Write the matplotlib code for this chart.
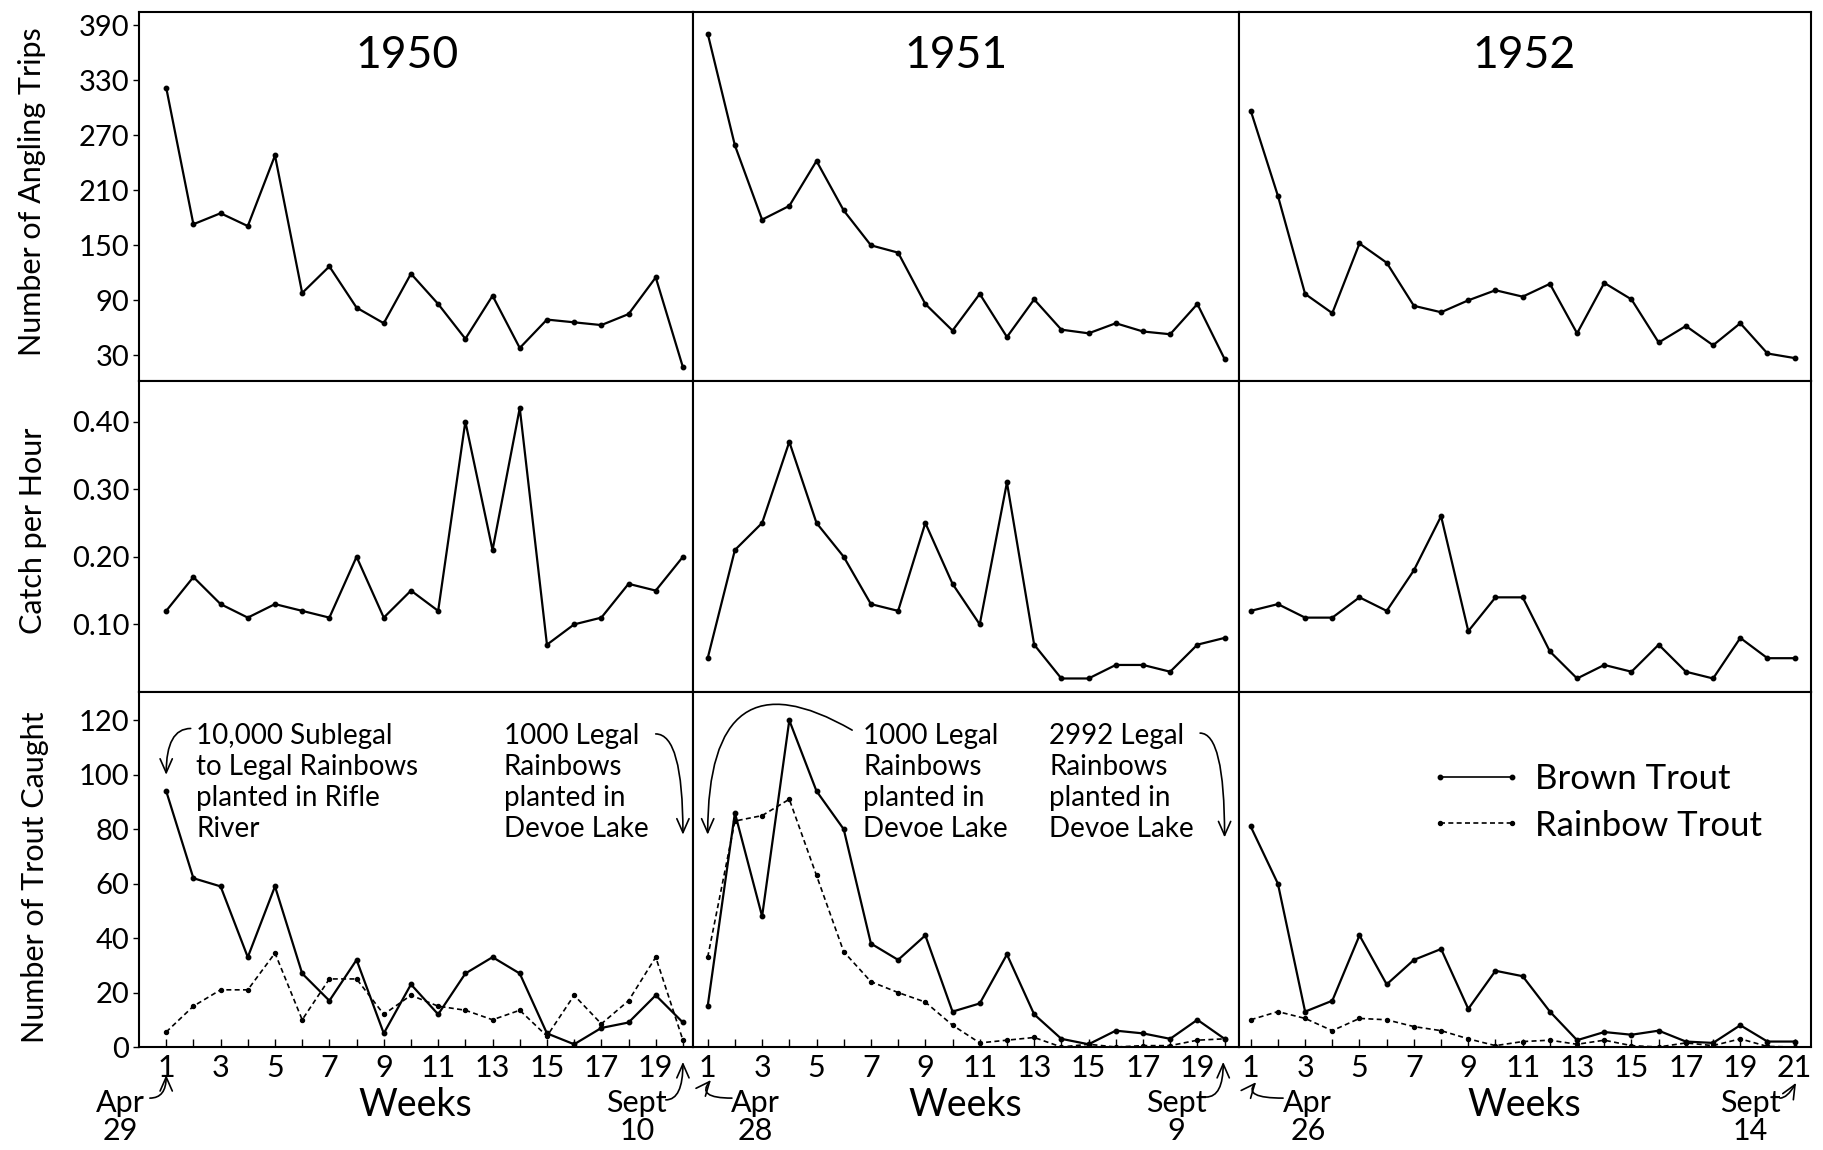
import matplotlib
matplotlib.use("Agg")
import matplotlib.pyplot as plt
from matplotlib.lines import Line2D

plt.rcParams.update({
    "font.family": ["Lato", "DejaVu Sans"],
    "font.weight": "normal",
    "axes.linewidth": 1.5,
})

# ---- data ----
weeks_1950 = list(range(1, 21))
weeks_1951 = list(range(1, 21))
weeks_1952 = list(range(1, 22))

trips_1950 = [322, 173, 185, 171, 248, 98, 127, 82, 65, 119, 86, 48, 95, 38, 69, 66, 63, 75, 115, 17]
trips_1951 = [381, 259, 178, 193, 242, 188, 150, 142, 86, 57, 97, 50, 91, 58, 54, 65, 56, 53, 86, 26]
trips_1952 = [297, 204, 97, 76, 152, 131, 84, 77, 90, 101, 94, 108, 54, 109, 91, 44, 62, 41, 65, 32, 27]

cph_1950 = [0.12, 0.17, 0.13, 0.11, 0.13, 0.12, 0.11, 0.20, 0.11, 0.15, 0.12, 0.40, 0.21, 0.42,
            0.07, 0.10, 0.11, 0.16, 0.15, 0.20]
cph_1951 = [0.05, 0.21, 0.25, 0.37, 0.25, 0.20, 0.13, 0.12, 0.25, 0.16, 0.10, 0.31, 0.07, 0.02,
            0.02, 0.04, 0.04, 0.03, 0.07, 0.08]
cph_1952 = [0.12, 0.13, 0.11, 0.11, 0.14, 0.12, 0.18, 0.26, 0.09, 0.14, 0.14, 0.06, 0.02, 0.04,
            0.03, 0.07, 0.03, 0.02, 0.08, 0.05, 0.05]

brown_1950 = [94, 62, 59, 33, 59, 27, 17, 32, 5, 23, 12, 27, 33, 27, 5, 1, 7, 9, 19, 9]
rainbow_1950 = [5.5, 15, 21, 21, 34.5, 10, 25, 25, 12, 19, 15, 13.5, 10, 13.5, 4, 19, 8.5, 17, 33, 2.5]
brown_1951 = [15, 86, 48, 120, 94, 80, 38, 32, 41, 13, 16, 34, 12, 3, 1, 6, 5, 3, 10, 3]
rainbow_1951 = [33, 83, 85, 91, 63, 35, 24, 20, 16.5, 8, 1.5, 2.5, 3.5, 0, 1, 0, 0.5, 0.5, 2.5, 3]
brown_1952 = [81, 60, 13, 17, 41, 23, 32, 36, 14, 28, 26, 13, 2.5, 5.5, 4.5, 6, 2, 1.5, 8, 2, 2]
rainbow_1952 = [10, 13, 10.5, 6, 10.5, 10, 7.5, 6, 3, 0.5, 2, 2.5, 1, 2.5, 0.5, 0, 1.5, 0.5, 3, 0.2, 0]

years = ["1950", "1951", "1952"]
start_dates = ["Apr\n29", "Apr\n28", "Apr\n26"]
end_dates = ["Sept\n10", "Sept\n9", "Sept\n14"]

trip_ticks = [30, 90, 150, 210, 270, 330, 390]
cph_ticks = [0.10, 0.20, 0.30, 0.40]
cph_labels = ["0.10", "0.20", "0.30", "0.40"]
catch_ticks = [0, 20, 40, 60, 80, 100, 120]

# ---- layout (pixels of the 1823x1150 canvas) ----
W, H = 1823, 1150
col_edges = [139, 693, 1239, 1811]
row_edges = [12, 381, 692, 1047]
xlims = [(0.0, 20.37), (0.46, 20.53), (0.57, 21.6)]
ylims = [(2, 404.5), (0, 0.46), (0, 130.4)]

fig = plt.figure(figsize=(W / 100, H / 100), dpi=100)

axes = []
for r in range(3):
    row = []
    for c in range(3):
        x0, x1 = col_edges[c], col_edges[c + 1]
        y0, y1 = row_edges[r], row_edges[r + 1]
        ax = fig.add_axes([x0 / W, 1 - y1 / H, (x1 - x0) / W, (y1 - y0) / H])
        ax.set_xlim(*xlims[c])
        ax.set_ylim(*ylims[r])
        ax.set_yticks([])
        ax.set_xticks([])
        row.append(ax)
    axes.append(row)

LW = 1.6
MS = 3.2
solid = dict(color="black", lw=LW, marker="o", ms=MS)
dashed = dict(color="black", lw=1.2, marker="o", ms=MS * 0.9, linestyle=(0, (3, 2)))

all_weeks = [weeks_1950, weeks_1951, weeks_1952]
all_trips = [trips_1950, trips_1951, trips_1952]
all_cph = [cph_1950, cph_1951, cph_1952]
all_brown = [brown_1950, brown_1951, brown_1952]
all_rainbow = [rainbow_1950, rainbow_1951, rainbow_1952]

for c in range(3):
    axes[0][c].plot(all_weeks[c], all_trips[c], **solid)
    axes[1][c].plot(all_weeks[c], all_cph[c], **solid)
    axes[2][c].plot(all_weeks[c], all_brown[c], **solid)
    axes[2][c].plot(all_weeks[c], all_rainbow[c], **dashed)

# year titles
title_x = [0.484, 0.481, 0.498]
for c in range(3):
    axes[0][c].text(title_x[c], 0.883, years[c], transform=axes[0][c].transAxes,
                    ha="center", va="center", fontsize=32)

# left column y axes
TICK_FS = 21
ax = axes[0][0]
ax.set_yticks(trip_ticks)
ax = axes[1][0]
ax.set_yticks(cph_ticks)
ax.set_yticklabels(cph_labels)
ax = axes[2][0]
ax.set_yticks(catch_ticks)
for r in range(3):
    axes[r][0].tick_params(axis="y", direction="out", length=4, width=1, labelsize=TICK_FS, pad=3)

ylabels = ["Number of Angling Trips", "Catch per Hour", "Number of Trout Caught"]
ylabel_x = [32, 33, 35]
ylabel_fy = [0.512, 0.518, 0.479]
for r in range(3):
    axes[r][0].set_ylabel(ylabels[r], fontsize=22, va="center")
    axes[r][0].yaxis.set_label_coords((ylabel_x[r] - col_edges[0]) / (col_edges[1] - col_edges[0]),
                                      ylabel_fy[r])

# bottom row x axes
for c in range(3):
    ax = axes[2][c]
    wk = all_weeks[c]
    ax.set_xticks(wk)
    ax.set_xticklabels([str(w) if w % 2 == 1 else "" for w in wk])
    ax.tick_params(axis="x", direction="in", length=6, width=1, labelsize=22, pad=5)
    ax.set_xlabel("Weeks", fontsize=27, va="top")
    ax.xaxis.set_label_coords(0.498, -0.113)

arrow = dict(arrowstyle="->,head_length=0.5,head_width=0.22", color="black", lw=1.2,
             shrinkA=0, shrinkB=0, mutation_scale=20)

# start / end date labels under the week axes
date_x = [(-0.7, 18.3), (2.74, 18.22), (3.1, 19.36)]
start_arrows = [((0.40, -0.144), (1.0, -0.079), "angle3,angleA=0,angleB=90"),
                ((1.89, -0.144), (1.12, -0.093), "angle3,angleA=0,angleB=50"),
                ((2.19, -0.144), (1.2, -0.099), "angle3,angleA=0,angleB=50")]
end_arrows = [((19.37, -0.149), (20.0, -0.042), "angle3,angleA=0,angleB=90"),
              ((19.32, -0.141), (19.95, -0.042), "angle3,angleA=0,angleB=90"),
              ((20.46, -0.144), (21.05, -0.101), "angle3,angleA=0,angleB=60")]
for c in range(3):
    ax = axes[2][c]
    for txt, xx in zip([start_dates[c], end_dates[c]], date_x[c]):
        ax.annotate(txt, xy=(xx, -0.196), xycoords=("data", "axes fraction"),
                    ha="center", va="center", fontsize=22, linespacing=1.0,
                    annotation_clip=False)
    for (s, t, cs) in [start_arrows[c], end_arrows[c]]:
        ax.annotate("", xy=t, xytext=s, xycoords=("data", "axes fraction"),
                    textcoords=("data", "axes fraction"), annotation_clip=False,
                    arrowprops=dict(arrow, connectionstyle=cs))

# planting notes
NOTE_FS = 20
note_kw = dict(ha="left", va="top", fontsize=NOTE_FS, linespacing=1.24)
NOTE_TOP = 119
ax = axes[2][0]
ax.text(2.1, NOTE_TOP, "10,000 Sublegal\nto Legal Rainbows\nplanted in Rifle\nRiver", **note_kw)
ax.annotate("", xy=(1, 100), xytext=(1.9, 117),
            arrowprops=dict(arrow, connectionstyle="angle3,angleA=0,angleB=90"))
ax.text(13.42, NOTE_TOP, "1000 Legal\nRainbows\nplanted in\nDevoe Lake", **note_kw)
ax.annotate("", xy=(20, 78), xytext=(19.0, 115),
            arrowprops=dict(arrow, connectionstyle="angle3,angleA=0,angleB=90"))

ax = axes[2][1]
ax.text(6.71, NOTE_TOP, "1000 Legal\nRainbows\nplanted in\nDevoe Lake", **note_kw)
ax.annotate("", xy=(1, 78), xytext=(6.31, 116.4),
            arrowprops=dict(arrow, connectionstyle="angle3,angleA=150,angleB=90"))
ax.text(13.55, NOTE_TOP, "2992 Legal\nRainbows\nplanted in\nDevoe Lake", **note_kw)
ax.annotate("", xy=(20, 77), xytext=(19.1, 115.3),
            arrowprops=dict(arrow, connectionstyle="angle3,angleA=0,angleB=90"))

# legend
handles = [Line2D([], [], **solid, label="Brown Trout"),
           Line2D([], [], **dashed, label="Rainbow Trout")]
for h in handles:
    h.set_linewidth(1.2)
axes[2][2].legend(handles=handles, loc="upper left", bbox_to_anchor=(0.334, 0.80),
                  frameon=False, fontsize=25, numpoints=2, handlelength=2.65,
                  handletextpad=0.37, labelspacing=0.42, borderpad=0, borderaxespad=0)

fig.savefig("out.png", dpi=100)
